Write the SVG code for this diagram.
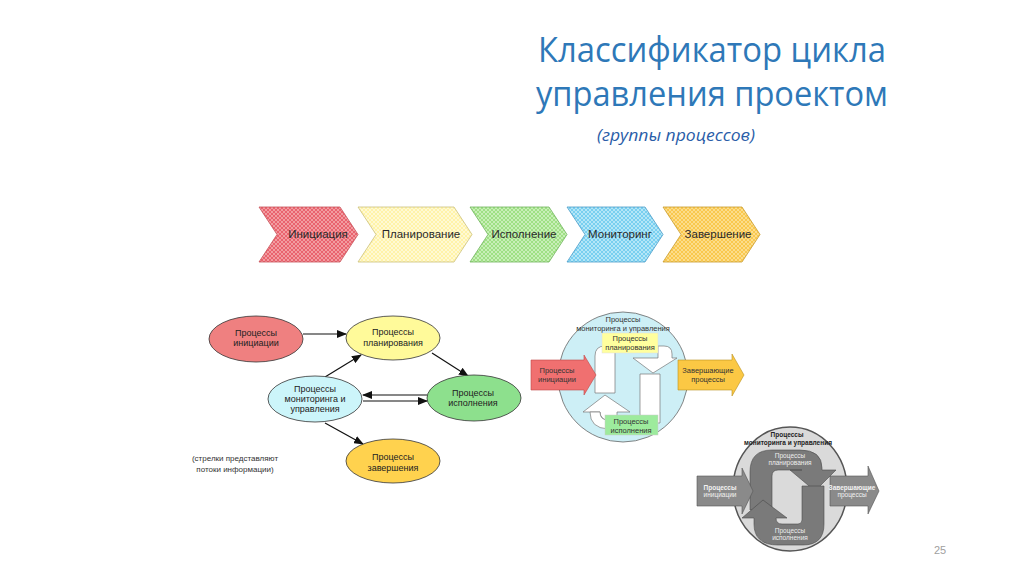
<svg xmlns="http://www.w3.org/2000/svg" width="1024" height="574" viewBox="0 0 1024 574">
<style>
.title{font-family:"Open Sans","Liberation Sans",sans-serif;fill:#2E78B8;font-size:35px}
.sub{font-family:"Open Sans","Liberation Sans",sans-serif;fill:#2A5DA8;font-size:16px;font-style:italic}
.chv{font-family:"Liberation Sans",Arial,sans-serif;font-size:11.5px;fill:#2a2a2a;text-anchor:middle}
.el{font-family:"Liberation Sans",Arial,sans-serif;font-size:9px;fill:#222;text-anchor:middle}
.sm{font-family:"Liberation Sans",Arial,sans-serif;font-size:7.5px;fill:#333;text-anchor:middle}
.gr{font-family:"Liberation Sans",Arial,sans-serif;font-size:6.5px;font-weight:bold;text-anchor:middle}
.ell{stroke:#333;stroke-width:0.8}
.conn{stroke:#111;stroke-width:1.2;fill:none;marker-end:url(#ah)}
.wh{fill:#fff;stroke:#777;stroke-width:0.7}
.gs{fill:#7A7A7A;stroke:#4A4A4A;stroke-width:0.6}
</style>
<defs>
<marker id="ah" markerWidth="10" markerHeight="8" refX="9" refY="4" orient="auto" markerUnits="userSpaceOnUse">
<path d="M0,0 L10,4 L0,8 Z" fill="#111"/>
</marker>
<pattern id="pR" width="4" height="4" patternUnits="userSpaceOnUse"><rect width="4" height="4" fill="#E9636E"/><path d="M0,0L4,4M4,0L0,4" stroke="#F6B4B8" stroke-width="0.7"/></pattern>
<pattern id="pY" width="4" height="4" patternUnits="userSpaceOnUse"><rect width="4" height="4" fill="#FFF3A8"/><path d="M0,0L4,4M4,0L0,4" stroke="#FFFCE6" stroke-width="0.7"/></pattern>
<pattern id="pG" width="4" height="4" patternUnits="userSpaceOnUse"><rect width="4" height="4" fill="#9FE084"/><path d="M0,0L4,4M4,0L0,4" stroke="#DAF5CE" stroke-width="0.7"/></pattern>
<pattern id="pB" width="4" height="4" patternUnits="userSpaceOnUse"><rect width="4" height="4" fill="#78CFF0"/><path d="M0,0L4,4M4,0L0,4" stroke="#CFEFFA" stroke-width="0.7"/></pattern>
<pattern id="pO" width="4" height="4" patternUnits="userSpaceOnUse"><rect width="4" height="4" fill="#F9C84E"/><path d="M0,0L4,4M4,0L0,4" stroke="#FDE6A6" stroke-width="0.7"/></pattern>
</defs>
<rect width="1024" height="574" fill="#fff"/>

<g id="title">
<text class="title" x="712" y="62" text-anchor="middle" textLength="348" lengthAdjust="spacingAndGlyphs">Классификатор цикла</text>
<text class="title" x="712" y="106" text-anchor="middle" textLength="352" lengthAdjust="spacingAndGlyphs">управления проектом</text>
<text class="sub" x="676" y="141" text-anchor="middle" textLength="158" lengthAdjust="spacingAndGlyphs">(группы процессов)</text>
</g>

<g id="chevrons">
<g id="ch-init"><polygon points="259,207 340,207 358,234.5 340,262 259,262 277,234.5" fill="url(#pR)" stroke="#C85058" stroke-width="0.8"/><text class="chv" x="318" y="238">Инициация</text></g>
<g id="ch-plan"><polygon points="358,207 454,207 472,234.5 454,262 358,262 376,234.5" fill="url(#pY)" stroke="#CBC07A" stroke-width="0.8"/><text class="chv" x="421" y="238">Планирование</text></g>
<g id="ch-exec"><polygon points="470,207 549,207 567,234.5 549,262 470,262 488,234.5" fill="url(#pG)" stroke="#6FB45A" stroke-width="0.8"/><text class="chv" x="524" y="238">Исполнение</text></g>
<g id="ch-mon"><polygon points="567,207 645,207 663,234.5 645,262 567,262 585,234.5" fill="url(#pB)" stroke="#4A9CC8" stroke-width="0.8"/><text class="chv" x="620" y="238">Мониторинг</text></g>
<g id="ch-close"><polygon points="663,207 742,207 760,234.5 742,262 663,262 681,234.5" fill="url(#pO)" stroke="#C89A2A" stroke-width="0.8"/><text class="chv" x="718" y="238">Завершение</text></g>
</g>

<g id="connectors">
<line class="conn" x1="303" y1="334" x2="346" y2="334"/>
<line class="conn" x1="325" y1="377" x2="361" y2="355"/>
<line class="conn" x1="432" y1="353" x2="468" y2="376"/>
<line class="conn" x1="427" y1="395" x2="363" y2="395"/>
<line class="conn" x1="363" y1="401" x2="427" y2="401"/>
<line class="conn" x1="325" y1="423" x2="363" y2="444"/>
</g>

<g id="n-init"><ellipse class="ell" cx="256" cy="339" rx="47" ry="23" fill="#EF8080"/><text class="el" x="256" y="336">Процессы</text><text class="el" x="256" y="346">инициации</text></g>
<g id="n-plan"><ellipse class="ell" cx="393" cy="338" rx="47" ry="22" fill="#FFFA9A"/><text class="el" x="393" y="335">Процессы</text><text class="el" x="393" y="346">планирования</text></g>
<g id="n-mon"><ellipse class="ell" cx="315" cy="399" rx="47" ry="23" fill="#CCF5FA"/><text class="el" x="315" y="392">Процессы</text><text class="el" x="315" y="402">мониторинга и</text><text class="el" x="315" y="412">управления</text></g>
<g id="n-exec"><ellipse class="ell" cx="474" cy="398" rx="47" ry="23" fill="#8DE08D"/><text class="el" x="473" y="396">Процессы</text><text class="el" x="473" y="406">исполнения</text></g>
<g id="n-close"><ellipse class="ell" cx="393" cy="461" rx="47" ry="22" fill="#FFD24E"/><text class="el" x="393" y="460">Процессы</text><text class="el" x="393" y="471">завершения</text></g>

<g id="note"><text class="sm" x="235" y="461" style="font-size:8px">(стрелки представляют</text><text class="sm" x="235" y="472" style="font-size:8px">потоки информации)</text></g>

<g id="cycle-color">
<circle cx="623" cy="377" r="65" fill="#CDEFF6" stroke="#666" stroke-width="0.8"/>
<text class="sm" x="623" y="322">Процессы</text>
<text class="sm" x="623" y="331">мониторинга и управления</text>
<path class="wh" d="M595,393 L595,356 Q595,346 605,346 L615,346 L615,393 Z"/>
<path class="wh" d="M583,412 L605,395 L630,412 L617,412 L617,420 L606,420 Q600,418 600,412 Z"/>
<path class="wh" d="M590,412 L600,412 Q600,420 608,420 L608,429 Q590,428 590,412 Z"/>
<path class="wh" d="M658,346 L664,346 Q672,346 672,354 L672,358 L677,358 L653,373 L633,358 L658,358 Z"/>
<path class="wh" d="M640,374 L660,374 L660,423 L648,423 Q640,422 640,414 Z"/>
<rect x="602" y="333" width="56" height="20" fill="#FFFF9E" stroke="#ddd" stroke-width="0.5"/>
<text class="sm" x="630" y="341">Процессы</text><text class="sm" x="630" y="350">планирования</text>
<rect x="605" y="415" width="53" height="20" fill="#9DEB9D" stroke="#ccc" stroke-width="0.5"/>
<text class="sm" x="631" y="424">Процессы</text><text class="sm" x="631" y="433">исполнения</text>
<path d="M531,360 L584,360 L584,355 L596,375 L584,395 L584,390 L531,390 Z" fill="#F07070" stroke="#C04848" stroke-width="0.6"/>
<text class="sm" x="557" y="373">Процессы</text><text class="sm" x="557" y="382">инициации</text>
<path d="M678,360 L732,360 L732,354 L744,375 L732,396 L732,390 L678,390 Z" fill="#FBC844" stroke="#B8901E" stroke-width="0.6"/>
<text class="sm" x="708" y="373">Завершающие</text><text class="sm" x="708" y="382">процессы</text>
</g>

<g id="cycle-gray">
<ellipse cx="790" cy="489" rx="57" ry="62" fill="#DADADA" stroke="#555" stroke-width="1.5"/>
<text class="gr" x="787" y="437" fill="#222">Процессы</text>
<text class="gr" x="788" y="445" fill="#222">мониторинга и управления</text>
<path class="gs" d="M750,510 L750,472 Q750,450 772,450 L800,450 Q822,450 822,468 L822,470 L836,470 L815,491 L790,470 L802,470 L778,470 Q772,470 772,476 L772,510 Z"/>
<text class="gr" x="790" y="458" fill="#EEE" style="font-weight:normal">Процессы</text>
<text class="gr" x="790" y="465" fill="#EEE" style="font-weight:normal">планирования</text>
<path class="gs" d="M824,486 L824,524 Q824,545 803,545 L778,545 Q754,545 754,524 L754,518 L742,518 L763,500 L787,518 L776,518 Q776,524 782,524 L798,524 Q802,524 802,520 L802,486 Z"/>
<text class="gr" x="790" y="533" fill="#EEE" style="font-weight:normal">Процессы</text>
<text class="gr" x="790" y="540" fill="#EEE" style="font-weight:normal">исполнения</text>
<path d="M697,476 L742,476 L742,468 L753,491 L742,514 L742,506 L697,506 Z" fill="#8A8A8A" stroke="#555" stroke-width="0.6"/>
<text class="gr" x="720" y="490" fill="#F2F2F2">Процессы</text><text class="gr" x="720" y="497" fill="#F2F2F2" style="font-weight:normal">инициации</text>
<path d="M830,476 L868,476 L868,466 L879,491 L868,514 L868,506 L830,506 Z" fill="#8A8A8A" stroke="#555" stroke-width="0.6"/>
<text class="gr" x="852" y="490" fill="#F2F2F2">Завершающие</text><text class="gr" x="852" y="497" fill="#F2F2F2" style="font-weight:normal">процессы</text>
</g>

<text x="940" y="554" text-anchor="middle" font-family="Liberation Sans, Arial, sans-serif" font-size="11" fill="#A0A0A0">25</text>
</svg>
